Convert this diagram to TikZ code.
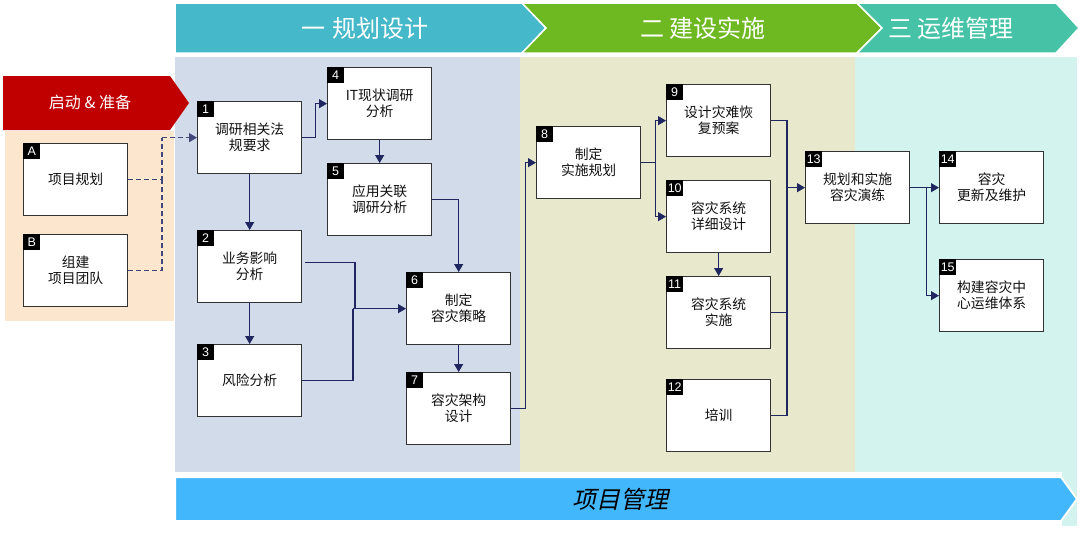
\documentclass[tikz,border=0pt]{standalone}
\usepackage{fontspec}
\setmainfont{Noto Sans CJK SC}
\newfontfamily\numfont{Liberation Sans}
\newfontfamily\cjkslant[FakeSlant=0.22]{Noto Sans CJK SC}
\usetikzlibrary{arrows.meta,calc}
\definecolor{areaBlue}{HTML}{D1DBE9}
\definecolor{areaBeige}{HTML}{E8E9CC}
\definecolor{areaTeal}{HTML}{D3F4EE}
\definecolor{peach}{HTML}{FDE6CE}
\definecolor{banCyan}{HTML}{45B8C9}
\definecolor{banGreen}{HTML}{6EB922}
\definecolor{banTeal}{HTML}{46C3A6}
\definecolor{banRed}{HTML}{C00000}
\definecolor{barBlue}{HTML}{42B7FC}
\definecolor{navy}{HTML}{1F2660}
\definecolor{boxline}{HTML}{333333}
\definecolor{txt}{HTML}{111111}
\newcommand\stepbox[5]{%
  \node[boxst, anchor=north west] (#1) at (#2,#3) {#4};
  \node[tagst, anchor=north west] (#1t) at (#1.north west) {#5};
}
\begin{document}
\begin{tikzpicture}[x=1pt,y=-1pt,
  boxst/.style={draw=boxline, line width=1.3pt, fill=white, minimum width=104pt, minimum height=72pt, inner sep=0pt, align=center, text=txt, font=\fontsize{13.8}{16}\selectfont},
  tagst/.style={fill=black, text=white, minimum width=17pt, minimum height=16pt, inner sep=1.5pt, font=\numfont\fontsize{12.5}{12.5}\selectfont},
  line/.style={draw=navy, line width=1.1pt},
  conn/.style={line, -{Triangle[length=8pt,width=9pt]}},
  dconn/.style={draw=navy!85!white, line width=1.1pt, dash pattern=on 5pt off 3pt},
  head/.style={text=white, font=\fontsize{24}{28}\selectfont}
]
\useasboundingbox (0,0) rectangle (1080,533);
% background areas
\fill[areaBlue] (175,57) rectangle (520,472);
\fill[areaBeige] (520,57) rectangle (855,472);
\fill[areaTeal] (855,57) rectangle (1077,472);
\fill[areaTeal] (1062,472) rectangle (1077,526);
\fill[peach] (5,131) rectangle (174,321);
% top banners
\filldraw[fill=banCyan, draw=white, line width=1.5pt] (175,3) -- (522,3) -- (546,28) -- (522,53) -- (175,53) -- cycle;
\filldraw[fill=banGreen, draw=white, line width=1.5pt] (522,3) -- (857,3) -- (882,28) -- (857,53) -- (522,53) -- (546,28) -- cycle;
\filldraw[fill=banTeal, draw=white, line width=1.5pt] (857,3) -- (1056,3) -- (1079,28) -- (1056,53) -- (857,53) -- (882,28) -- cycle;
\node[head] (h1) at (365,28) {一\,\,规划设计};
\node[head] (h2) at (703,28) {二 建设实施};
\node[head] (h3) at (951,28) {三 运维管理};
% start banner
\fill[banRed] (3,76) -- (170,76) -- (189,103) -- (170,130) -- (3,130) -- cycle;
\node[text=white, font=\fontsize{16}{18}\selectfont] (start) at (90,102) {启动 \& 准备};
% bottom bar
\filldraw[fill=barBlue, draw=white, line width=2pt] (175,477) -- (1061,477) -- (1077,499) -- (1061,521) -- (175,521) -- cycle;
\node[text=black, font=\cjkslant\fontsize{24}{28}\selectfont] (pm) at (620,499) {项目管理};
% boxes
\stepbox{A}{23}{143}{项目规划}{A}
\stepbox{B}{23}{234}{组建\\项目团队}{B}
\stepbox{b1}{197}{101}{调研相关法\\规要求}{1}
\stepbox{b4}{327}{67}{IT现状调研\\分析}{4}
\stepbox{b5}{327}{163}{应用关联\\调研分析}{5}
\stepbox{b2}{197}{230}{业务影响\\分析}{2}
\stepbox{b3}{197}{344}{风险分析}{3}
\stepbox{b6}{406}{272}{制定\\容灾策略}{6}
\stepbox{b7}{406}{372}{容灾架构\\设计}{7}
\stepbox{b8}{536}{126}{制定\\实施规划}{8}
\stepbox{b9}{666}{84}{设计灾难恢\\复预案}{9}
\stepbox{b10}{666}{180}{容灾系统\\详细设计}{10}
\stepbox{b11}{666}{276}{容灾系统\\实施}{11}
\stepbox{b12}{666}{379}{培训}{12}
\stepbox{b13}{805}{151}{规划和实施\\容灾演练}{13}
\stepbox{b14}{939}{151}{容灾\\更新及维护}{14}
\stepbox{b15}{939}{259}{构建容灾中\\心运维体系}{15}
% connectors
\coordinate (jab) at ($(b1.west)+(-35,0)$);
\draw[dconn] (B.east) -| (A.east -| jab);
\draw[dconn] (A.east) -| (jab);
\draw[dconn, -{Triangle[length=8pt,width=9pt]}] (jab) -- (b1.west);
\draw[conn] (b1.east) -- ++(13,0) |- (b4.west);
\draw[conn] (b1.south) -- (b2.north);
\draw[conn] (b2.south) -- (b3.north);
\draw[conn] (b4.south) -- (b5.north);
\draw[conn] (b5.east) -| (b6.north);
\draw[line] ($(b2.east)+(3,-4)$) -| ($(b6.west)+(-51,0)$);
\draw[line] (b3.east) -| ($(b6.west)+(-53,0)$);
\draw[conn] ($(b6.west)+(-53,0)$) -- (b6.west);
\draw[conn] (b6.south) -- (b7.north);
\draw[conn] (b7.east) -- ++(14,0) |- (b8.west);
\draw[conn] (b8.east) -- ++(14,0) |- (b9.west);
\draw[conn] (b8.east) -- ++(14,0) |- (b10.west);
\draw[conn] (b10.south) -- (b11.north);
\coordinate (j13) at ($(b13.west)+(-18,0)$);
\draw[line] (b9.east) -| (j13);
\draw[line] (b12.east) -| (j13);
\draw[line] (b11.east) -- (b11.east -| j13);
\draw[conn] (j13) -- (b13.west);
\draw[conn] (b13.east) -- (b14.west);
\draw[conn] (b13.east) -- ++(16,0) |- (b15.west);
\end{tikzpicture}
\end{document}
